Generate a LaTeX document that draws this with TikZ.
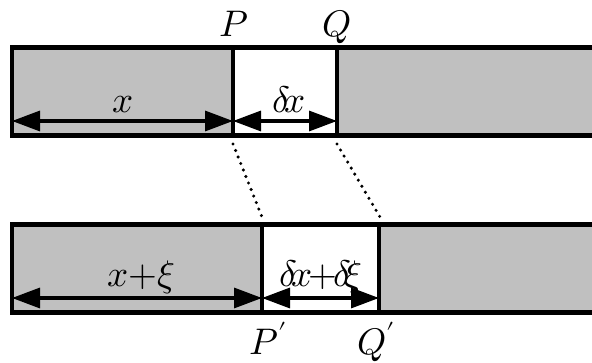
\documentclass[tikz,border=0pt]{standalone}
\usepackage{unicode-math}
\setmathfont{Latin Modern Math}
\usetikzlibrary{arrows.meta}
\definecolor{bargray}{HTML}{C0C0C0}
\tikzset{
  barline/.style={line width=4.5pt, line cap=butt, line join=miter},
  dimline/.style={line width=3.2pt, {Triangle[length=28pt,width=20pt]}-{Triangle[length=28pt,width=20pt]}},
  dotline/.style={line width=3.4pt, line cap=round, dash pattern=on 0pt off 7pt},
  lbl/.style={inner sep=0pt, anchor=base, font=\fontsize{37}{40}\selectfont}
}
\begin{document}
\begin{tikzpicture}[x=1pt,y=-1pt]
\useasboundingbox (0,0) rectangle (592,363);
% ---------- top bar ----------
\coordinate (TL) at (12,47.5);
\coordinate (BL) at (12,135.5);
\coordinate (TR) at (600,47.5);
\coordinate (BR) at (600,135.5);
\coordinate (Pt) at (233,47.5);
\coordinate (Pb) at (233,135.5);
\coordinate (Qt) at (337,47.5);
\coordinate (Qb) at (337,135.5);
\fill[bargray] (TL) rectangle (Pb);
\fill[bargray] (Qt) rectangle (BR);
\draw[barline] (TR) -- (TL) -- (BL) -- (BR);
\draw[barline] (Pt) -- (Pb);
\draw[barline] (Qt) -- (Qb);
% ---------- bottom bar ----------
\coordinate (tl) at (12,224.5);
\coordinate (bl) at (12,312.5);
\coordinate (tr) at (600,224.5);
\coordinate (br) at (600,312.5);
\coordinate (Ppt) at (262,224.5);
\coordinate (Ppb) at (262,312.5);
\coordinate (Qpt) at (379,224.5);
\coordinate (Qpb) at (379,312.5);
\fill[bargray] (tl) rectangle (Ppb);
\fill[bargray] (Qpt) rectangle (br);
\draw[barline] (tr) -- (tl) -- (bl) -- (br);
\draw[barline] (Ppt) -- (Ppb);
\draw[barline] (Qpt) -- (Qpb);
% ---------- dimension arrows ----------
\coordinate (a0) at (12,121);
\coordinate (a1) at (233,121);
\coordinate (a2) at (337,121);
\draw[dimline] (a0) -- (a1);
\draw[dimline] (a1) -- (a2);
\coordinate (b0) at (12,298);
\coordinate (b1) at (262,298);
\coordinate (b2) at (379,298);
\draw[dimline] (b0) -- (b1);
\draw[dimline] (b1) -- (b2);
% ---------- dotted connectors ----------
\coordinate (d1s) at (233,144);
\coordinate (d1e) at (262,217);
\coordinate (d2s) at (337,144);
\coordinate (d2e) at (380,217);
\draw[dotline] (d1s) -- (d1e);
\draw[dotline] (d2s) -- (d2e);
% ---------- labels ----------
\node[lbl] (lP) at (234,37) {$P$};
\node[lbl] (lQ) at (337,37) {$Q$};
\node[lbl] (lx) at (123,113) {$x$};
\node[lbl] (ldx) at (289,113) {$\delta\mkern-3mu x$};
\node[lbl] (lxxi) at (141,287) {$x{+}\xi$};
\node[lbl] (ldxdxi) at (321,287) {$\delta\mkern-3mu x\mkern-2mu{+}\mkern-2mu\delta\mkern-3mu\xi$};
\node[lbl] (lPp) at (268,355) {$P'$};
\node[lbl] (lQp) at (376,355) {$Q'$};
\end{tikzpicture}
\end{document}
